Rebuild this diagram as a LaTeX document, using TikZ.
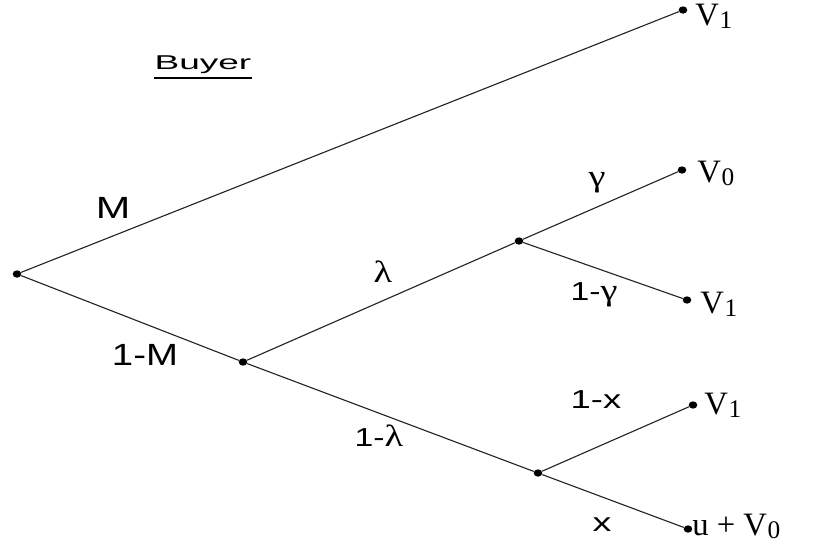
\documentclass[tikz,border=0pt]{standalone}
\usepackage{fontspec}
\usetikzlibrary{shapes.geometric}
\setmainfont{Liberation Serif}
\setsansfont{Liberation Sans}
\newcommand\grk[1]{{\rmfamily\fontsize{23}{24}\selectfont\scalebox{1.25}[1]{#1}}}
\newcommand\lsub[1]{\kern0.5pt\raisebox{-0.22ex}{\fontsize{19}{19}\selectfont #1}}
\begin{document}
\begin{tikzpicture}[x=0.75pt,y=-0.75pt,
  dot/.style={ellipse, fill=black, inner sep=0pt, minimum width=6.5pt, minimum height=5.5pt},
  edge/.style={draw=black!85, line width=0.85pt},
  sanslab/.style={font=\sffamily\fontsize{19.5}{20}\selectfont, inner sep=0pt, anchor=base},
  mlab/.style={font=\sffamily\fontsize{23}{24}\selectfont, inner sep=0pt, anchor=base},
  leaf/.style={font=\fontsize{24.5}{25}\selectfont, inner sep=0pt, anchor=base west},
  greeklab/.style={inner sep=0pt, anchor=base},
  buyerlab/.style={font=\sffamily\fontsize{15}{16}\selectfont, inner sep=0pt, anchor=base}]
\useasboundingbox (0,0) rectangle (817,551);
% decision/chance nodes
\node[dot] (r)  at (17,274) {};
\node[dot] (t1) at (683,10) {};
\node[dot] (a)  at (243,362) {};
\node[dot] (b)  at (519,241) {};
\node[dot] (l0) at (682,170) {};
\node[dot] (l1) at (687,300) {};
\node[dot] (c)  at (538,473) {};
\node[dot] (l2) at (693,405) {};
\node[dot] (l3) at (688,529) {};
% edges
\draw[edge] (r) -- (t1);
\draw[edge] (r) -- (a);
\draw[edge] (a) -- (b);
\draw[edge] (a) -- (c);
\draw[edge] (b) -- (l0);
\draw[edge] (b) -- (l1);
\draw[edge] (c) -- (l2);
\draw[edge] (c) -- (l3);
% leaf labels
\node[leaf] (v1t) at (695,25) {V\lsub{1}};
\node[leaf] (v0m) at (697,182) {V\lsub{0}};
\node[leaf] (v1m) at (700,313) {V\lsub{1}};
\node[leaf] (v1l) at (704,414) {V\lsub{1}};
\node[leaf] (uv0) at (692,535) {u + V\lsub{0}};
% branch labels
\node[buyerlab] (buyer) at (203,69) {\scalebox{1.85}[1]{Buyer}};
\draw[line width=0.8pt] ([yshift=-6.75pt]buyer.base west) -- ([yshift=-6.75pt]buyer.base east);
\node[mlab] (m) at (113,218) {\scalebox{1.35}[1]{M}};
\node[mlab] (om) at (145,365) {\scalebox{1.25}[1]{1-M}};
\node[greeklab] (lam) at (383,282) {\grk{λ}};
\node[sanslab] (olam) at (379,446) {\scalebox{1.3}[1]{1-}\grk{λ}};
\node[greeklab] (gam) at (597,186) {\grk{γ}};
\node[sanslab] (ogam) at (594,300) {\scalebox{1.3}[1]{1-}\grk{γ}};
\node[sanslab] (ox) at (596,408) {\scalebox{1.4}[1]{1-x}};
\node[sanslab] (x) at (602,531) {\scalebox{1.45}[1]{x}};
\end{tikzpicture}
\end{document}
